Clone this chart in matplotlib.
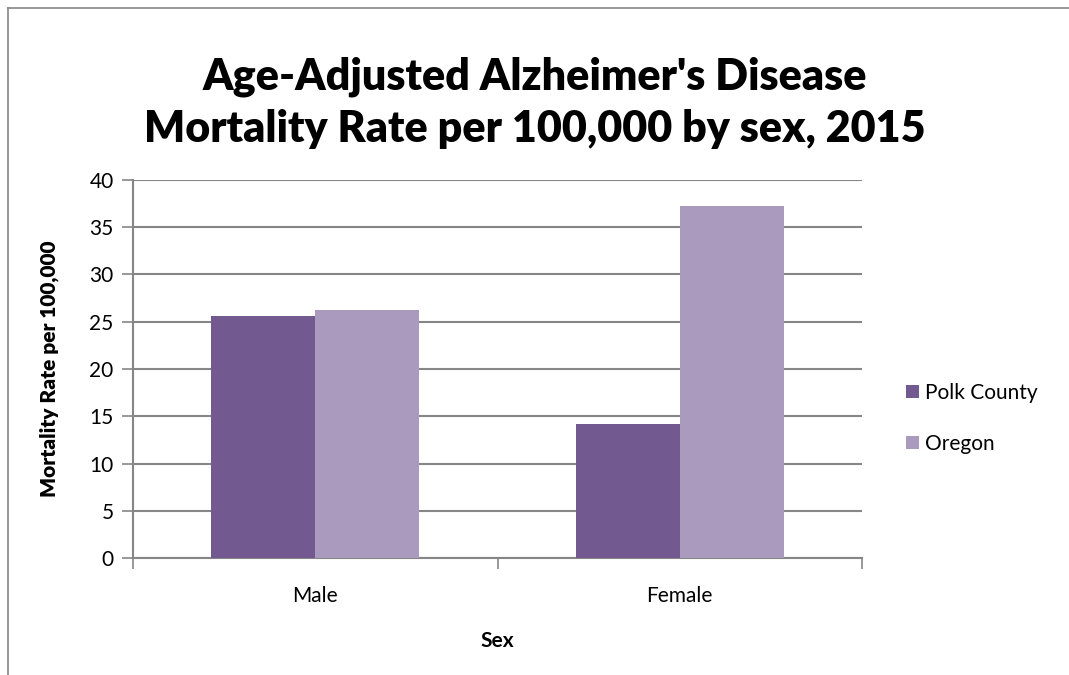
import numpy as np
import matplotlib.pyplot as plt
from matplotlib.lines import Line2D

# Daten
categories = ['Male', 'Female']
series = ['Polk County', 'Oregon']
polk = [25.6, 14.2]
oregon = [26.2, 37.3]
colors = ['#72598F', '#A99ABE']

plt.rcParams['font.family'] = ['Lato', 'DejaVu Sans']

fig = plt.figure(figsize=(10.69, 6.75), dpi=100)
ax = fig.add_axes([133 / 1069, 117 / 675, 729 / 1069, 378 / 675])

x = np.arange(len(categories))
w = 0.285
ax.bar(x - w / 2, polk, w, color=colors[0], label=series[0], zorder=3)
ax.bar(x + w / 2, oregon, w, color=colors[1], label=series[1], zorder=3)

ax.set_xlim(-0.5, 1.5)
ax.set_ylim(0, 40)
ax.set_yticks(range(0, 41, 5))
ax.yaxis.grid(True, color='#868686', linewidth=1.5, zorder=0)
ax.set_axisbelow(True)

# X-Ticks an den Kategoriegrenzen
ax.set_xticks([-0.5, 0.5, 1.5])
ax.set_xticklabels([])
ax.set_xticks(x, minor=True)
ax.set_xticklabels(categories, minor=True, fontsize=15)
ax.tick_params(axis='x', which='minor', length=0, pad=20)
ax.tick_params(axis='x', which='major', length=8, width=1.2, color='#868686')
ax.tick_params(axis='y', length=8, width=1.2, color='#868686', labelsize=15, pad=6)

for s in ['top', 'right']:
    ax.spines[s].set_visible(False)
for s in ['left', 'bottom']:
    ax.spines[s].set_color('#868686')
    ax.spines[s].set_linewidth(1.5)

ax.set_xlabel('Sex', fontsize=15, fontweight='bold', labelpad=18)
ax.set_ylabel('Mortality Rate per 100,000', fontsize=15, fontweight='heavy', labelpad=22)

fig.text(0.5, 1 - 103 / 675, "Age-Adjusted Alzheimer's Disease\nMortality Rate per 100,000 by sex, 2015",
         ha='center', va='center', fontsize=31, fontweight='heavy', linespacing=1.35)

ax.legend(loc='center left', bbox_to_anchor=(1.035, 0.37), frameon=False, fontsize=15,
          handlelength=0.6, handleheight=0.6, labelspacing=1.5, handletextpad=0.3)

# Rahmen
fig.add_artist(Line2D([8 / 1069, 1], [1 - 8 / 675, 1 - 8 / 675], color='#868686', lw=1.2))
fig.add_artist(Line2D([8 / 1069, 8 / 1069], [0, 1 - 8 / 675], color='#868686', lw=1.2))

fig.savefig('out.png', dpi=100)
